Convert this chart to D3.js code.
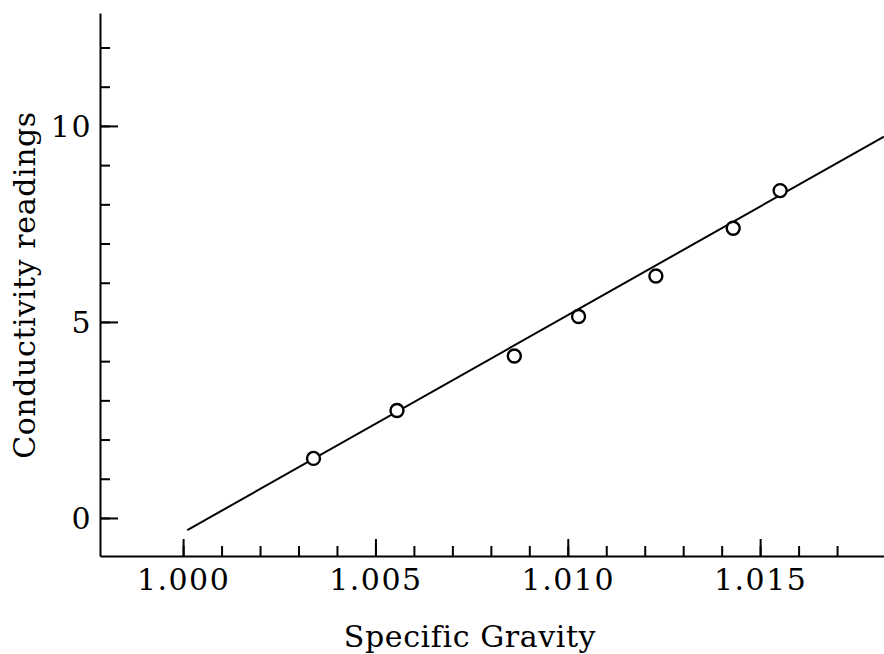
<!DOCTYPE html>
<html lang="en">
<head>
    <meta charset="UTF-8">
    <title>Conductivity vs Specific Gravity</title>
    <script src="https://d3js.org/d3.v7.min.js"></script>
    <style>
        body{
            margin: 0;
            background-color: #ffffff;
        }
        #canvas{
            display: block;
        }
        .axis path, .axis line{
            stroke: #000000;
            stroke-width: 2px;
        }
        .axis text, .axis_title{
            font-family: "DejaVu Serif", serif;
            font-size: 30px;
            fill: #000000;
        }
        .axis text{
            letter-spacing: 1.5px;
        }
        .axis_title{
            letter-spacing: 0.6px;
        }
        .fit{
            fill: none;
            stroke: #000000;
            stroke-width: 2px;
        }
        .point{
            fill: #ffffff;
            stroke: #000000;
            stroke-width: 2.4px;
        }
    </style>
</head>
<body>
<svg id="canvas" width="884" height="654"></svg>
<script>
    // measured points
    let gravity = [1.00339, 1.00556, 1.00861, 1.01028, 1.01229, 1.01430, 1.01552]
    let readings = [1.52, 2.74, 4.13, 5.14, 6.17, 7.39, 8.35]
    // fitted line end points
    let fit_x = [1.00011, 1.01822]
    let fit_y = [-0.31, 9.73]
    // ticks
    let x_major = [1.000, 1.005, 1.010, 1.015]
    let x_minor = d3.range(0, 18).map(function (i){return 1 + i/1000})
    let y_major = [0, 5, 10]
    let y_minor = d3.range(0, 13)

    let svg = d3.select('#canvas')
    let xScale = d3.scaleLinear().domain([0.99784, 1.01822]).range([100, 884])
    let yScale = d3.scaleLinear().domain([-0.97, 12.88]).range([556, 13])

    // y axis
    svg.append('g').attr('class', 'axis')
        .attr('transform', 'translate(100,0)')
        .call(d3.axisLeft(yScale).tickValues(y_minor).tickSize(-10).tickSizeOuter(0).tickFormat(''))
    let yMajor = svg.append('g').attr('class', 'axis')
        .attr('transform', 'translate(100,0)')
        .call(d3.axisLeft(yScale).tickValues(y_major).tickSize(-18).tickSizeOuter(0).tickPadding(8).tickFormat(d3.format('d')))
    yMajor.select('.domain').remove()
    yMajor.selectAll('text').attr('dy', '0.36em')

    // x axis
    svg.append('g').attr('class', 'axis')
        .attr('transform', 'translate(0,556)')
        .call(d3.axisBottom(xScale).tickValues(x_minor).tickSize(-10).tickSizeOuter(0).tickFormat(''))
    let xMajor = svg.append('g').attr('class', 'axis')
        .attr('transform', 'translate(0,556)')
        .call(d3.axisBottom(xScale).tickValues(x_major).tickSize(-17).tickSizeOuter(0).tickFormat(d3.format('.3f')))
    xMajor.select('.domain').remove()
    xMajor.selectAll('text').attr('y', 34).attr('dy', 0)
    svg.selectAll('.axis').attr('font-family', null).attr('font-size', null)

    // titles
    svg.append('text').attr('class', 'axis_title')
        .attr('x', 470).attr('y', 647)
        .attr('text-anchor', 'middle')
        .text('Specific Gravity')
    svg.append('text').attr('class', 'axis_title')
        .attr('transform', 'translate(35,285) rotate(-90)')
        .attr('text-anchor', 'middle')
        .text('Conductivity readings')

    // fitted line
    let line = d3.line()
        .x(function (d, i){return xScale(fit_x[i])})
        .y(function (d){return yScale(d)})
    svg.append('path').attr('class', 'fit').attr('d', line(fit_y))

    // points
    svg.selectAll('circle')
        .data(gravity)
        .enter()
        .append('circle')
        .attr('class', 'point')
        .attr('cx', function (d){return xScale(d)})
        .attr('cy', function (d, i){return yScale(readings[i])})
        .attr('r', 6.5)
</script>
</body>
</html>
